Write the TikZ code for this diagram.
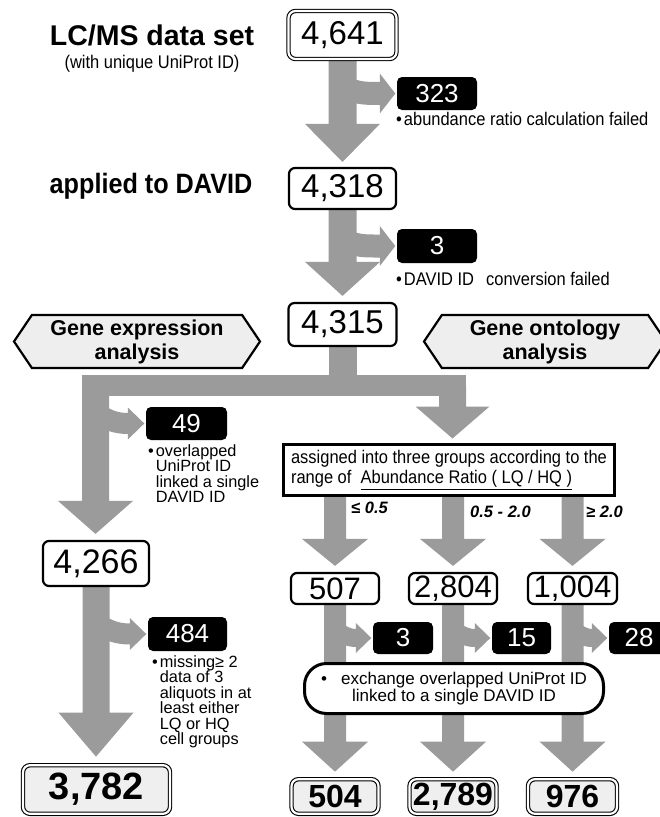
\documentclass[tikz,border=0pt]{standalone}
\usepackage{fontspec}
\setmainfont{Liberation Sans}
\newfontfamily\narrowfont[FakeStretch=0.9]{Liberation Sans}
\usetikzlibrary{calc,shapes.symbols}
\definecolor{arrowgray}{RGB}{155,155,155}
\definecolor{boxgray}{RGB}{239,239,239}
\definecolor{hexgray}{RGB}{238,238,238}
\newcommand\setfs[2]{\fontsize{#1}{#2}\selectfont}
\pgfdeclarelayer{bg}
\pgfsetlayers{bg,main}
% vertical fat arrow: #1 start, #2 tip, #3 half shaft, #4 half head, #5 head length
\newcommand\fatdown[5]{%
  \fill[arrowgray] let \p1=(#1), \p2=(#2) in
    (\x1-#3,\y1) -- (\x1+#3,\y1) -- (\x1+#3,\y2+#5) -- (\x1+#4,\y2+#5)
    -- (\x1,\y2) -- (\x1-#4,\y2+#5) -- (\x1-#3,\y2+#5) -- cycle;}
% branch arrow: #1 start, #2 target (west anchor), #3 band width, #4 half head, #5 head length
\newcommand\branchto[5]{%
  \draw[arrowgray, line width=#3] let \p1=(#1), \p2=(#2) in
    (\p1) to[out=-30,in=180] (\x2-#5-1.5pt,\y2);
  \fill[arrowgray] let \p2=(#2) in
    (\x2-#5-2pt,\y2+#4) -- (\x2-1.5pt,\y2) -- (\x2-#5-2pt,\y2-#4) -- cycle;}
\tikzset{
  numbox/.style={draw, line width=2.2pt, rounded corners=6pt, fill=white, inner sep=0pt, font=\setfs{33}{35}},
  dblbox/.style={draw, line width=1.1pt, double=white, double distance=2.2pt, rounded corners=7pt, inner sep=0pt},
  blkbox/.style={fill=black, rounded corners=5pt, text=white, inner sep=0pt, font=\setfs{26}{28}},
  note/.style={inner sep=0pt, font=\narrowfont\setfs{18.3}{15}, align=left},
  stack/.style={inner sep=0pt, font=\setfs{16.3}{15.5}, align=left},
  titletext/.style={inner sep=0pt, font=\bfseries\setfs{28.5}{30}},
  hexa/.style={signal, signal to=west and east, signal pointer angle=112, draw, line width=2.2pt,
    fill=hexgray, inner sep=0pt, font=\bfseries\setfs{21.5}{24}, align=center},
  lbl/.style={inner sep=0pt, anchor=west, font=\bfseries\itshape\setfs{16.5}{18}}
}
\begin{document}
\begin{tikzpicture}[x=1pt,y=-1pt]
\useasboundingbox (0,0) rectangle (659,817);
% titles
\node[titletext] (lcms) at (152,35) {LC/MS data set};
\node[note] (uniq) at (152,64) {(with unique UniProt ID)};
\node[titletext, font=\narrowfont\bfseries\setfs{28}{30}] (applied) at (151,186) {applied to DAVID};
% top chain
\node[dblbox, fill=white, minimum width=108pt, minimum height=48pt, font=\setfs{33}{35}] (n4641) at (342.5,35) {4,641};
\node[numbox, minimum width=107pt, minimum height=41pt] (n4318) at (342.5,188.5) {4,318};
\node[numbox, minimum width=108pt, minimum height=43pt] (n4315) at (342.5,324.5) {4,315};
\node[blkbox, minimum width=80pt, minimum height=33pt] (n323) at (437,93.5) {323};
\node[note, anchor=west] (t323) at (396,119) {•\hspace{2pt}abundance ratio calculation failed};
\node[blkbox, minimum width=80pt, minimum height=34pt] (n3a) at (437,246) {3};
\node[note, anchor=west] (t3a) at (396,279) {•\hspace{2pt}DAVID ID\hspace{12pt}conversion failed};
% hexagons
\node[hexa, minimum width=246pt, minimum height=53pt] (hexl) at (137,341.5) {Gene expression\\analysis};
\node[hexa, minimum width=242pt, minimum height=53pt] (hexr) at (545,341.5) {Gene ontology\\analysis};
% junction
\coordinate (jc) at (342.5,385.5);
\coordinate (jl) at (95.5,385.5);
\coordinate (jr) at (452.5,385.5);
% left column
\node[blkbox, minimum width=81pt, minimum height=33pt] (n49) at (186.5,423.5) {49};
\node[stack, anchor=north west] (t49) at (148,444) {•\hspace{2pt}overlapped\\\hphantom{•\hspace{2pt}}UniProt ID\\\hphantom{•\hspace{2pt}}linked a single\\\hphantom{•\hspace{2pt}}DAVID ID};
\node[numbox, minimum width=106pt, minimum height=45pt, font=\setfs{34}{36}] (n4266) at (96,563.5) {4,266};
\node[blkbox, minimum width=79pt, minimum height=34pt] (n484) at (187.5,634) {484};
\node[stack, anchor=north west] (t484) at (152,655) {•\hspace{2pt}missing≥ 2\\\hphantom{•\hspace{2pt}}data of 3\\\hphantom{•\hspace{2pt}}aliquots in at\\\hphantom{•\hspace{2pt}}least either\\\hphantom{•\hspace{2pt}}LQ or HQ\\\hphantom{•\hspace{2pt}}cell groups};
\node[dblbox, fill=boxgray, minimum width=147pt, minimum height=48.6pt, font=\bfseries\setfs{38}{40}] (n3782) at (96.5,789.5) {3,782};
% right column
\node[draw, line width=3pt, fill=white, minimum width=331pt, minimum height=51pt, inner sep=0pt, align=left, font=\narrowfont\setfs{18.3}{20}] (assign) at (449,470) {assigned into three groups according to the\\range of\ \ \underline{Abundance Ratio ( LQ / HQ )}};
\node[lbl] (l1) at (351,508) {≤ 0.5};
\node[lbl] (l2) at (470,512) {0.5 - 2.0};
\node[lbl] (l3) at (586,512) {≥ 2.0};
\node[numbox, minimum width=88pt, minimum height=31pt, font=\setfs{31}{33}] (n507) at (335,588.5) {507};
\node[numbox, minimum width=88pt, minimum height=31pt, font=\setfs{31}{33}] (n2804) at (453,588.5) {2,804};
\node[numbox, minimum width=89pt, minimum height=31pt, font=\setfs{31}{33}] (n1004) at (572.5,588.5) {1,004};
\node[blkbox, minimum width=60pt, minimum height=32pt] (c3) at (403,638) {3};
\node[blkbox, minimum width=59pt, minimum height=32pt] (c15) at (521.5,638) {15};
\node[blkbox, minimum width=60pt, minimum height=32pt] (c28) at (639,638) {28};
\node[draw, line width=3pt, rounded corners=22pt, fill=white, minimum width=299pt, minimum height=50pt, inner sep=0pt, align=center, font=\setfs{17}{15.5}] (exch) at (454,688.5) {•\hspace{14pt}exchange overlapped UniProt ID\\linked to a single DAVID ID};
\node[dblbox, fill=boxgray, minimum width=87pt, minimum height=34.6pt, font=\bfseries\setfs{32}{34}] (n504) at (335,796.5) {504};
\node[dblbox, fill=boxgray, minimum width=87pt, minimum height=34.6pt, font=\bfseries\setfs{32}{34}] (n2789) at (453,796.5) {2,789};
\node[dblbox, fill=boxgray, minimum width=89pt, minimum height=34.6pt, font=\bfseries\setfs{32}{34}] (n976) at (572.5,796.5) {976};
% branch start points
\coordinate (b1) at (342.5,86);
\coordinate (b2) at (342.5,239);
\coordinate (b3) at (95.5,413);
\coordinate (b4) at (95.5,623);
\coordinate (b5) at (335,630);
\coordinate (b6) at (453,630);
\coordinate (b7) at (572.5,630);
\begin{pgfonlayer}{bg}
  \fatdown{n4641.south}{[yshift=5pt]n4318.north}{14pt}{37.5pt}{38pt}
  \fatdown{n4318.south}{[yshift=6pt]n4315.north}{14pt}{37.5pt}{34pt}
  \branchto{b1}{n323.west}{23pt}{20pt}{15pt}
  \branchto{b2}{n3a.west}{23pt}{20pt}{15pt}
  % split
  \fill[arrowgray] let \p1=(n4315.south), \p2=(jc) in (\x1-14pt,\y1) rectangle (\x1+14pt,\y2);
  \fill[arrowgray] let \p1=(jl), \p2=(jr) in (\x1-13.5pt,\y1+10.5pt) rectangle (\x2+13.5pt,\y2-10.5pt);
  \fatdown{jl}{[yshift=6pt]n4266.north}{13.5pt}{37.5pt}{33pt}
  \fatdown{jr}{[yshift=4.5pt]assign.north}{13.5pt}{37pt}{32pt}
  \branchto{b3}{n49.west}{21pt}{16pt}{16pt}
  \fatdown{n4266.south}{[yshift=8pt]n3782.north}{13.5pt}{37.5pt}{44pt}
  \branchto{b4}{n484.west}{21pt}{16pt}{16pt}
  % three groups
  \fatdown{assign.south -| n507}{[yshift=6pt]n507.north}{11pt}{33pt}{27pt}
  \fatdown{assign.south -| n2804}{[yshift=6pt]n2804.north}{11pt}{33pt}{27pt}
  \fatdown{assign.south -| n1004}{[yshift=6pt]n1004.north}{11pt}{33pt}{27pt}
  \fatdown{n507.south}{[yshift=7pt]n504.north}{11pt}{33pt}{30pt}
  \fatdown{n2804.south}{[yshift=7pt]n2789.north}{11pt}{33pt}{30pt}
  \fatdown{n1004.south}{[yshift=7pt]n976.north}{11pt}{33pt}{30pt}
  \branchto{b5}{c3.west}{18pt}{15pt}{15pt}
  \branchto{b6}{c15.west}{18pt}{15pt}{15pt}
  \branchto{b7}{c28.west}{18pt}{15pt}{15pt}
\end{pgfonlayer}
\end{tikzpicture}
\end{document}
